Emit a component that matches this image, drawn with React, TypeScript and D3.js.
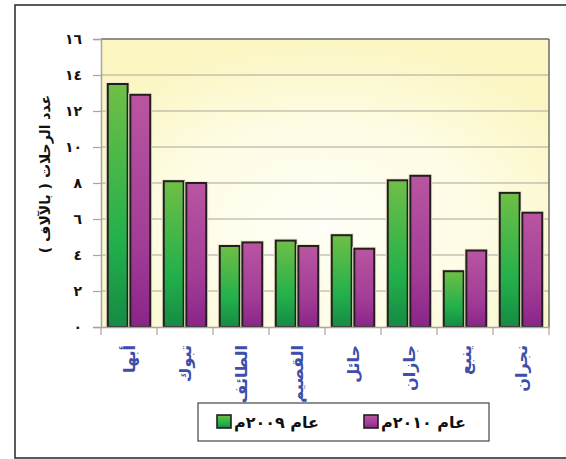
import { useEffect, useRef } from "react";
import * as d3 from "d3";

const cities = ["أبها", "تبوك", "الطائف", "القصيم", "حائل", "جازان", "ينبع", "نجران"];
const trips2009 = [13.5, 8.1, 4.5, 4.8, 5.1, 8.15, 3.1, 7.45];
const trips2010 = [12.9, 8.0, 4.7, 4.5, 4.35, 8.4, 4.25, 6.35];
const seriesNames = ["عام ٢٠٠٩م", "عام ٢٠١٠م"];
const yTicks = [0, 2, 4, 6, 8, 10, 12, 14, 16];
const yTickLabels = ["٠", "٢", "٤", "٦", "٨", "١٠", "١٢", "١٤", "١٦"];
const yTitle = "عدد الرحلات ( بالآلاف )";

const App = () => {
  const svgRef = useRef<SVGSVGElement | null>(null);

  useEffect(() => {
    if (!svgRef.current) return;
    const svg = d3.select(svgRef.current);
    svg.selectAll("*").remove();

    const width = 566;
    const height = 459;
    const margin = { top: 39, right: 17, bottom: 132, left: 101 };
    const font = "'DejaVu Sans', sans-serif";

    const defs = svg.append("defs");
    const bg = defs.append("radialGradient").attr("id", "bg")
      .attr("cx", "50%").attr("cy", "65%").attr("r", "65%");
    bg.append("stop").attr("offset", "0%").attr("stop-color", "#fffff8");
    bg.append("stop").attr("offset", "55%").attr("stop-color", "#fefce4");
    bg.append("stop").attr("offset", "100%").attr("stop-color", "#fbf6c2");

    const grads = [
      { id: "g0", stops: ["#6fbf46", "#22b04b", "#168a44"] },
      { id: "g1", stops: ["#b955a0", "#a13d96", "#8a2489"] },
    ];
    grads.forEach(g => {
      const lg = defs.append("linearGradient").attr("id", g.id)
        .attr("x1", 0).attr("y1", 0).attr("x2", 0).attr("y2", 1);
      lg.append("stop").attr("offset", "0%").attr("stop-color", g.stops[0]);
      lg.append("stop").attr("offset", "65%").attr("stop-color", g.stops[1]);
      lg.append("stop").attr("offset", "100%").attr("stop-color", g.stops[2]);
    });

    // outer frame (right side runs off the picture)
    svg.append("rect")
      .attr("x", 15).attr("y", 5).attr("width", 600).attr("height", 453)
      .attr("fill", "#fff").attr("stroke", "#333").attr("stroke-width", 1.6);

    const x0 = d3.scaleBand<string>()
      .domain(cities)
      .range([margin.left, width - margin.right]);
    const x1 = d3.scaleBand<number>()
      .domain([0, 1])
      .range([0, x0.bandwidth()])
      .paddingInner(0.12)
      .paddingOuter(0.3);
    const y = d3.scaleLinear()
      .domain([0, 16])
      .range([height - margin.bottom, margin.top]);

    const plotW = width - margin.right - margin.left;
    const plotH = height - margin.bottom - margin.top;

    svg.append("rect")
      .attr("x", margin.left).attr("y", margin.top)
      .attr("width", plotW).attr("height", plotH)
      .attr("fill", "url(#bg)");

    // gridlines
    svg.append("g")
      .selectAll("line")
      .data(yTicks.slice(1, -1))
      .join("line")
      .attr("x1", margin.left).attr("x2", width - margin.right)
      .attr("y1", d => y(d)).attr("y2", d => y(d))
      .attr("stroke", "#a9a59c").attr("stroke-width", 1);

    // plot border
    svg.append("line")
      .attr("x1", margin.left).attr("x2", width - margin.right)
      .attr("y1", margin.top).attr("y2", margin.top)
      .attr("stroke", "#6b6b66").attr("stroke-width", 1.5);
    svg.append("line")
      .attr("x1", width - margin.right).attr("x2", width - margin.right)
      .attr("y1", margin.top).attr("y2", y(0))
      .attr("stroke", "#6b6b66").attr("stroke-width", 1.5);

    // bars
    const series = [trips2009, trips2010];
    series.forEach((vals, si) => {
      const g = svg.append("g");
      g.selectAll("rect.halo")
        .data(vals)
        .join("rect")
        .attr("x", (_, i) => x0(cities[i])! + x1(si)! - 1.2)
        .attr("y", d => y(d) - 1.2)
        .attr("width", x1.bandwidth() + 2.4)
        .attr("height", d => y(0) - y(d) + 1.2)
        .attr("fill", "none")
        .attr("stroke", "#eeeacb").attr("stroke-width", 1.6);
      g.selectAll("rect.bar")
        .data(vals)
        .join("rect")
        .attr("x", (_, i) => x0(cities[i])! + x1(si)!)
        .attr("y", d => y(d))
        .attr("width", x1.bandwidth())
        .attr("height", d => y(0) - y(d))
        .attr("fill", `url(#g${si})`)
        .attr("stroke", "#231f20").attr("stroke-width", 2);
    });

    // y axis
    const yAxis = svg.append("g")
      .attr("transform", `translate(${margin.left},0)`)
      .call(d3.axisLeft(y).tickValues(yTicks).tickSize(8).tickPadding(11)
        .tickFormat((_, i) => yTickLabels[i]));
    yAxis.select(".domain").attr("stroke", "#a9a59c").attr("stroke-width", 1.5);
    yAxis.selectAll(".tick line").attr("stroke", "#a9a59c").attr("stroke-width", 1.2);
    yAxis.selectAll(".tick text")
      .attr("font-family", font).attr("font-size", 14).attr("font-weight", "bold")
      .attr("fill", "#111");

    // x axis
    const xAxis = svg.append("g")
      .attr("transform", `translate(0,${y(0)})`)
      .call(d3.axisBottom(x0).tickSize(0).tickFormat(() => ""));
    xAxis.select(".domain").attr("stroke", "#a9a59c").attr("stroke-width", 1.5);
    svg.append("g")
      .selectAll("line")
      .data(d3.range(cities.length + 1))
      .join("line")
      .attr("x1", i => margin.left + i * x0.step())
      .attr("x2", i => margin.left + i * x0.step())
      .attr("y1", y(0)).attr("y2", y(0) + 8)
      .attr("stroke", "#a9a59c").attr("stroke-width", 1.2);

    svg.append("g")
      .selectAll("text")
      .data(cities)
      .join("text")
      .attr("transform", d => `translate(${x0(d)! + x0.bandwidth() / 2 + 6},345) rotate(-90)`)
      .attr("text-anchor", "end")
      .attr("font-family", font).attr("font-size", 16).attr("font-weight", "bold")
      .attr("fill", "#3d4fa8")
      .text(d => d);

    // y title
    svg.append("text")
      .attr("transform", `translate(50,174) rotate(-90)`)
      .attr("text-anchor", "middle")
      .attr("font-family", font).attr("font-size", 14).attr("font-weight", "bold")
      .attr("fill", "#111")
      .text(yTitle);

    // legend
    const legend = svg.append("g");
    legend.append("rect")
      .attr("x", 198).attr("y", 403).attr("width", 291).attr("height", 38)
      .attr("fill", "#fff").attr("stroke", "#444").attr("stroke-width", 1.2);
    const legendX = [217, 364];
    seriesNames.forEach((name, si) => {
      legend.append("rect")
        .attr("x", legendX[si]).attr("y", 415).attr("width", 14).attr("height", 13)
        .attr("fill", `url(#g${si})`).attr("stroke", "#231f20").attr("stroke-width", 1.6);
      legend.append("text")
        .attr("x", legendX[si] + 17).attr("y", 428)
        .attr("text-anchor", "start")
        .attr("font-family", font).attr("font-size", 16).attr("font-weight", "bold")
        .attr("fill", "#111")
        .text(name);
    });
  }, []);

  return (
    <svg ref={svgRef} width={566} height={459}
      style={{ position: "absolute", left: 0, top: 0 }} />
  );
};

export default App;
